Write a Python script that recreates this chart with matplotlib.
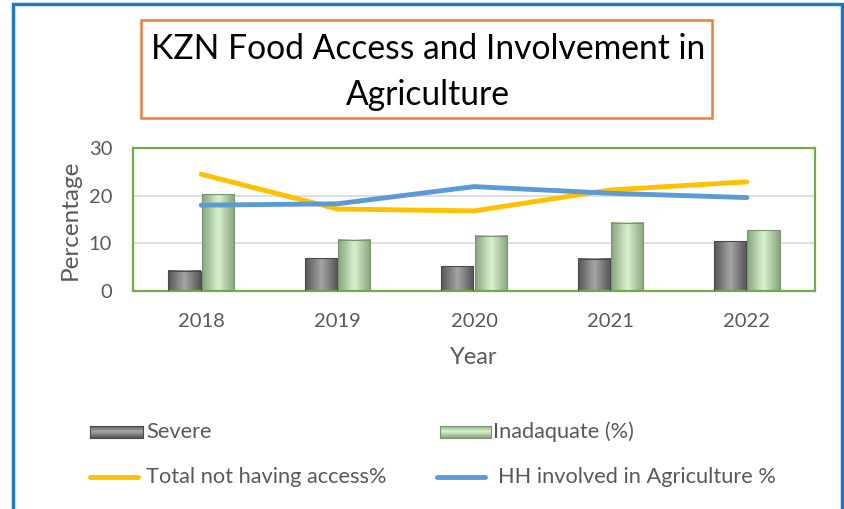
import matplotlib
matplotlib.use("Agg")
import matplotlib.pyplot as plt
import numpy as np
from matplotlib.patches import Rectangle
from matplotlib.lines import Line2D
from matplotlib.colors import LinearSegmentedColormap

years = ["2018", "2019", "2020", "2021", "2022"]
severe = [4.2, 6.9, 5.2, 6.8, 10.4]
inadequate = [20.3, 10.7, 11.6, 14.3, 12.7]
total_no_access = [24.5, 17.2, 16.8, 21.2, 22.9]
hh_agri = [18.0, 18.3, 21.9, 20.5, 19.6]

FONT = "Lato"
plt.rcParams["font.family"] = [FONT, "DejaVu Sans"]
W, H = 844, 509
fig = plt.figure(figsize=(W / 100, H / 100), dpi=100)

def fx(px):
    return px / W

def fy(py):
    return 1 - py / H

# outer blue frame
fig.patches.append(Rectangle((fx(13), fy(520)), fx(842) - fx(13), fy(4) - fy(520),
                             transform=fig.transFigure, fill=False,
                             edgecolor="#1f78c8", linewidth=2.5))
# title box
fig.patches.append(Rectangle((fx(141), fy(118)), fx(712) - fx(141), fy(20) - fy(118),
                             transform=fig.transFigure, fill=False,
                             edgecolor="#ed7d31", linewidth=1.8))
fig.text(fx(428), fy(49), "KZN Food Access and Involvement in", ha="center", va="center",
         fontsize=24.2, color="black")
fig.text(fx(428), fy(95), "Agriculture", ha="center", va="center",
         fontsize=24.2, color="black")

ax = fig.add_axes([fx(133), fy(291), fx(815) - fx(133), fy(148) - fy(291)])
x = np.arange(len(years))
bw = 0.235

gray_cmap = LinearSegmentedColormap.from_list("g", ["#555555", "#a6a6a6", "#555555"])
green_cmap = LinearSegmentedColormap.from_list("gr", ["#86a47e", "#d8f2cc", "#86a47e"])
grad = np.linspace(0, 1, 64).reshape(1, -1)

def draw_bars(xs, vals, cmap, edge):
    for xi, v in zip(xs, vals):
        ax.imshow(grad, cmap=cmap, aspect="auto", extent=(xi - bw / 2, xi + bw / 2, 0, v),
                  zorder=2, interpolation="bicubic")
        ax.add_patch(Rectangle((xi - bw / 2, 0), bw, v, fill=False, edgecolor=edge,
                               linewidth=0.8, zorder=3))

draw_bars(x - bw / 2 - 0.005, severe, gray_cmap, "#4a4a4a")
draw_bars(x + bw / 2 + 0.005, inadequate, green_cmap, "#7a9470")

ax.plot(x, total_no_access, color="#ffc000", linewidth=3.5, zorder=4, solid_capstyle="round")
ax.plot(x, hh_agri, color="#5b9bd5", linewidth=3.5, zorder=5, solid_capstyle="round")

ax.set_xlim(-0.5, len(years) - 0.5)
ax.set_ylim(0, 30)
ax.set_yticks([0, 10, 20, 30])
ax.set_xticks(x)
ax.set_xticklabels(years)
ax.yaxis.grid(True, color="#d9d9d9", linewidth=1.2)
ax.set_axisbelow(True)
ax.tick_params(axis="both", length=0, labelsize=14.5, colors="#595959")
ax.tick_params(axis="x", pad=16)
ax.tick_params(axis="y", pad=15)
for s in ax.spines.values():
    s.set_color("#70ad47")
    s.set_linewidth(1.6)
ax.set_xlabel("Year", fontsize=17, color="#595959", labelpad=12)
ax.set_ylabel("Percentage", fontsize=17.5, color="#595959", labelpad=6)

# legend
def patch_grad(x0, x1, yc, cmap, edge):
    lax = fig.add_axes([fx(x0), fy(yc + 6), fx(x1) - fx(x0), fy(yc - 6) - fy(yc + 6)])
    lax.imshow(grad.T, cmap=cmap, aspect="auto", extent=(0, 1, 0, 1))
    lax.set_xticks([]); lax.set_yticks([])
    for s in lax.spines.values():
        s.set_color(edge); s.set_linewidth(0.8)

patch_grad(90, 143, 432, gray_cmap, "#4a4a4a")
fig.text(fx(146), fy(432), "Severe", fontsize=15.7, color="#595959", va="center")
patch_grad(440, 491, 432, green_cmap, "#7a9470")
fig.text(fx(493), fy(432), "Inadaquate (%)", fontsize=15.7, color="#595959", va="center")

fig.lines.append(Line2D([fx(90), fx(138)], [fy(477), fy(477)], transform=fig.transFigure,
                        color="#ffc000", linewidth=3.5, solid_capstyle="round"))
fig.text(fx(146), fy(477), "Total not having access%", fontsize=15.7, color="#595959", va="center")
fig.lines.append(Line2D([fx(437), fx(485)], [fy(477), fy(477)], transform=fig.transFigure,
                        color="#5b9bd5", linewidth=3.5, solid_capstyle="round"))
fig.text(fx(498), fy(477), "HH involved in Agriculture %", fontsize=15.7, color="#595959", va="center")

fig.savefig("out.png", dpi=100)
